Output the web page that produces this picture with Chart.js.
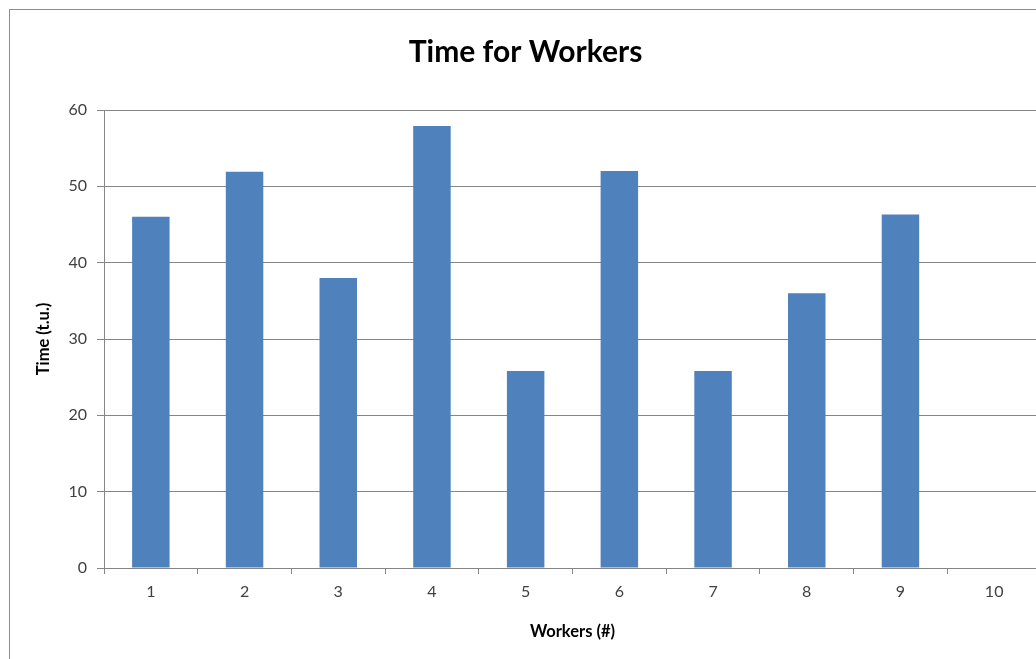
<!DOCTYPE html>
<html>
<head>
<meta charset="utf-8">
<script src="https://cdn.jsdelivr.net/npm/chart.js@4.4.0/dist/chart.umd.min.js"></script>
<style>
  html, body { margin: 0; padding: 0; background: #fff; overflow: hidden; }
  body { width: 1036px; height: 659px; position: relative; }
  #frame {
    position: absolute; left: 9px; top: 9px; width: 1100px; height: 700px;
    border-left: 1px solid #8c8c8c; border-top: 1px solid #8c8c8c;
  }
  #wrap { position: absolute; left: 0; top: 0; width: 1051px; height: 659px; }
</style>
</head>
<body>
<div id="frame"></div>
<div id="wrap"><canvas id="myChart"></canvas></div>
<script>
//CHART DATA
const workers = ["1", "2", "3", "4", "5", "6", "7", "8", "9", "10"];
const times = [46, 51.9, 38, 57.9, 25.8, 52, 25.8, 36, 46.3, null];
const yTicks = [0, 10, 20, 30, 40, 50, 60];

//COLORS AND FONTS
const barColor = "#4F81BD";
const lineColor = "#868686";
const textColor = "#404040";
const fontFamily = "Lato, 'Open Sans', sans-serif";

const data = {
  labels: workers,
  datasets: [
    {
      label: "Time",
      backgroundColor: barColor,
      borderWidth: 0,
      data: times,
      barPercentage: 0.4,
      categoryPercentage: 1,
    },
  ],
};

const config = {
  type: "bar",
  data,
  options: {
    responsive: true,
    maintainAspectRatio: false,
    animation: false,
    layout: { padding: { left: 10, right: 10, top: 0, bottom: 15 } },
    plugins: {
      legend: { display: false },
      tooltip: { enabled: false },
      title: {
        display: true,
        text: "Time for Workers",
        color: "#000",
        font: { family: fontFamily, size: 30, weight: "bold" },
        padding: { top: 34, bottom: 40 },
      },
    },
    scales: {
      x: {
        grid: {
          offset: true,
          drawOnChartArea: false,
          drawTicks: true,
          tickLength: 6,
          color: lineColor,
        },
        border: { color: lineColor },
        ticks: {
          color: textColor,
          padding: 8,
          font: { family: fontFamily, size: 16 },
        },
        title: {
          display: true,
          text: "Workers (#)",
          color: "#000",
          font: { family: fontFamily, size: 16.5, weight: "bold" },
          padding: { top: 0, bottom: 2 },
        },
        afterFit: (scale) => {
          scale.height = 76;
        },
      },
      y: {
        min: 0,
        max: 60,
        afterBuildTicks: (scale) => {
          scale.ticks = yTicks.map((v) => ({ value: v }));
        },
        grid: {
          color: lineColor,
          drawTicks: true,
          tickLength: 7,
        },
        border: { color: lineColor },
        ticks: {
          color: textColor,
          padding: 10,
          font: { family: fontFamily, size: 16 },
        },
        title: {
          display: true,
          text: "Time (t.u.)",
          color: "#000",
          font: { family: fontFamily, size: 16.5, weight: "bold" },
          padding: { top: 24, bottom: 0 },
        },
        afterFit: (scale) => {
          scale.width = 94;
        },
      },
    },
  },
};

var myChart = new Chart(document.getElementById("myChart"), config);
</script>
</body>
</html>
